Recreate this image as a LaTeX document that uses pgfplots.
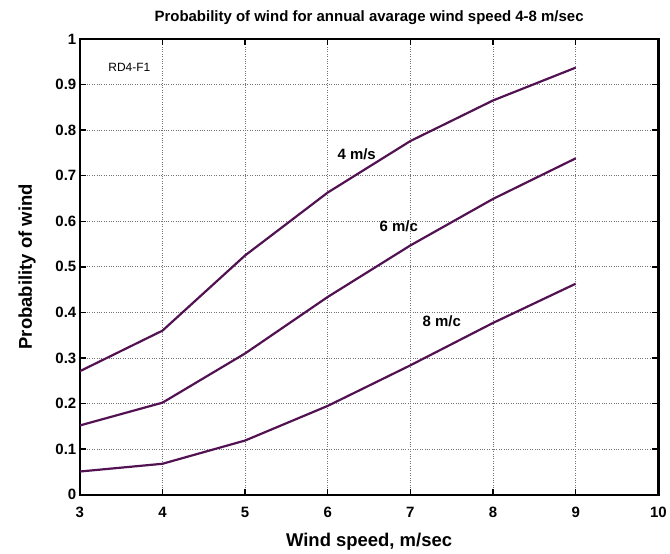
\documentclass[border=0pt]{standalone}
\usepackage{pgfplots}
\pgfplotsset{compat=1.18}
\usepackage{fontspec}
\setmainfont{Liberation Sans}
\definecolor{curve}{RGB}{82,18,82}
\begin{document}
\begin{tikzpicture}
\begin{axis}[
  scale only axis,
  width=580pt, height=457pt,
  xmin=3, xmax=10, ymin=0, ymax=1,
  xtick={3,4,...,10},
  ytick={0,0.1,...,1.0},
  yticklabels={0,0.1,0.2,0.3,0.4,0.5,0.6,0.7,0.8,0.9,1},
  /pgf/number format/assume math mode=true,
  tick label style={font=\fontsize{15}{18}\selectfont\bfseries},
  xticklabel style={yshift=-9pt},
  label style={font=\fontsize{18.5}{22}\selectfont\bfseries},
  title style={font=\fontsize{15}{18}\selectfont\bfseries, yshift=5pt},
  title={Probability of wind for annual avarage wind speed 4-8 m/sec},
  xlabel={Wind speed, m/sec},
  ylabel={Probability of wind},
  xlabel style={yshift=-8pt},
  ylabel style={yshift=13pt},
  grid=major,
  major grid style={black!55, dotted, line width=0.7pt},
  axis line style={line width=2.4pt},
  tick style={black, line width=1.4pt},
  major tick length=6pt,
  tick align=inside,
]
\addplot[curve, line width=2.2pt, no marks] coordinates {(3,0.271) (4,0.36) (5,0.525) (6,0.663) (7,0.776) (8,0.865) (9,0.937)};
\addplot[curve, line width=2.2pt, no marks] coordinates {(3,0.152) (4,0.202) (5,0.31) (6,0.434) (7,0.547) (8,0.649) (9,0.738)};
\addplot[curve, line width=2.2pt, no marks] coordinates {(3,0.051) (4,0.068) (5,0.119) (6,0.195) (7,0.284) (8,0.377) (9,0.463)};
\node[font=\fontsize{15}{18}\selectfont\bfseries] at (axis cs:6.35,0.747) {4 m/s};
\node[font=\fontsize{15}{18}\selectfont\bfseries] at (axis cs:6.86,0.588) {6 m/c};
\node[font=\fontsize{15}{18}\selectfont\bfseries] at (axis cs:7.38,0.38) {8 m/c};
\node[font=\fontsize{12}{14}\selectfont] at (axis cs:3.6,0.937) {RD4-F1};
\end{axis}
\path (current axis.south west) ++(-80pt,-55pt) (current axis.north east) ++(10pt,39pt);
\end{tikzpicture}
\end{document}
